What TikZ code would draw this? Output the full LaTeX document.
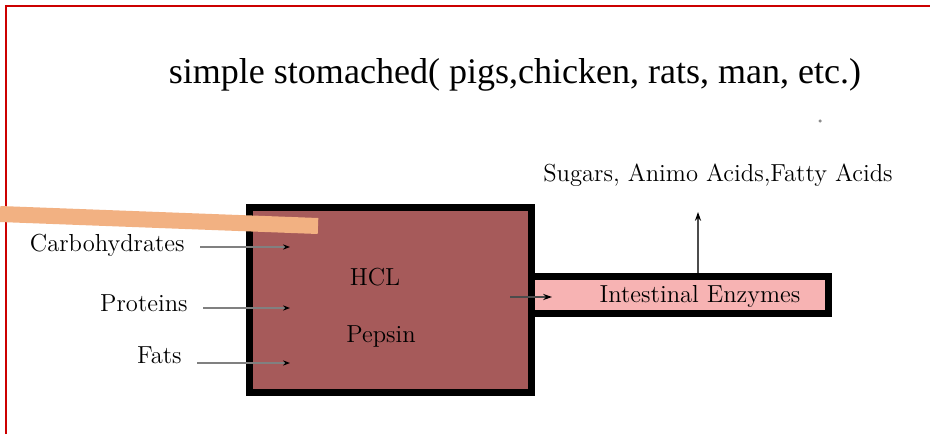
\documentclass[tikz,border=0pt]{standalone}
\usepackage{fontspec}
\usepackage{tikz}
\usetikzlibrary{arrows.meta,calc,positioning}
\newfontfamily\titlefont{Liberation Serif}
\definecolor{frameCol}{HTML}{CC0000}
\definecolor{stomCol}{HTML}{A65A5A}
\definecolor{intCol}{HTML}{F7B3B3}
\definecolor{markCol}{HTML}{F2B182}
\definecolor{feedCol}{HTML}{808080}
\tikzset{
  organ/.style n args={3}{draw=black, fill=#1, line width=0.14cm, inner sep=0pt,
        minimum width=#2, minimum height=#3},
  lbl/.style={font=\fontsize{14}{16}\selectfont, inner sep=0pt},
  inlbl/.style={font=\fontsize{14}{16}\selectfont, anchor=east, inner sep=0.3cm},
  feed/.style={-{Stealth[length=4pt,width=3pt,black]}, feedCol, line width=0.8pt},
  pass/.style={-{Stealth[length=5pt,width=3.5pt,black]}, black!70, line width=0.7pt},
}
\begin{document}
\begin{tikzpicture}
  \useasboundingbox (0,0) rectangle (18.6,8.68);
  % page frame (top and left only)
  \draw[frameCol, line width=0.04cm] (0.12,0) -- (0.12,8.56) -- (18.6,8.56);
  \node[font=\titlefont\fontsize{20.5}{24}\selectfont, inner sep=0pt] (title) at (10.3,7.18)
       {simple stomached( pigs,chicken, rats, man, etc.)};
  \node[circle, fill=black!45, inner sep=0.7pt] (dot) at (16.4,6.26){};
  % stomach and intestine
  \node[organ={stomCol}{5.64cm}{3.7cm}] (stom) at (7.8,2.68){};
  \node[organ={intCol}{5.95cm}{0.74cm}] (int) at (13.595,2.78){};
  \node[lbl] (hcl) at (7.5,3.14){HCL};
  \node[lbl] (pep) at (7.62,1.96){Pepsin};
  \node[lbl] (enz) at (14.0,2.76){Intestinal Enzymes};
  \node[lbl] (prod) at (14.36,5.18){Sugars, Animo Acids,Fatty Acids};
  % feed labels
  \node[inlbl] (carb) at (4.0,3.78){Carbohydrates};
  \node[inlbl] (prot) at (4.06,2.62){Proteins};
  \node[inlbl] (fat)  at (3.94,1.58){Fats};
  \coordinate (cin) at (5.8,3.74);
  \coordinate (pin) at (5.8,2.52);
  \coordinate (fin) at (5.8,1.42);
  \draw[feed] (carb.east |- cin) -- (cin);
  \draw[feed] (prot.east |- pin) -- (pin);
  \draw[feed] (fat.east |- fin) -- (fin);
  % stomach -> intestine, intestine -> products
  \coordinate (sout) at (10.2,2.74);
  \coordinate (iin) at (11.04,2.74);
  \draw[pass] (sout) -- (iin);
  \coordinate (up) at (13.96,4.44);
  \draw[pass] (up |- int.north) -- (up);
  % highlighter stroke
  \draw[markCol, line width=0.32cm] (0,4.4) -- (6.36,4.16);
\end{tikzpicture}
\end{document}
